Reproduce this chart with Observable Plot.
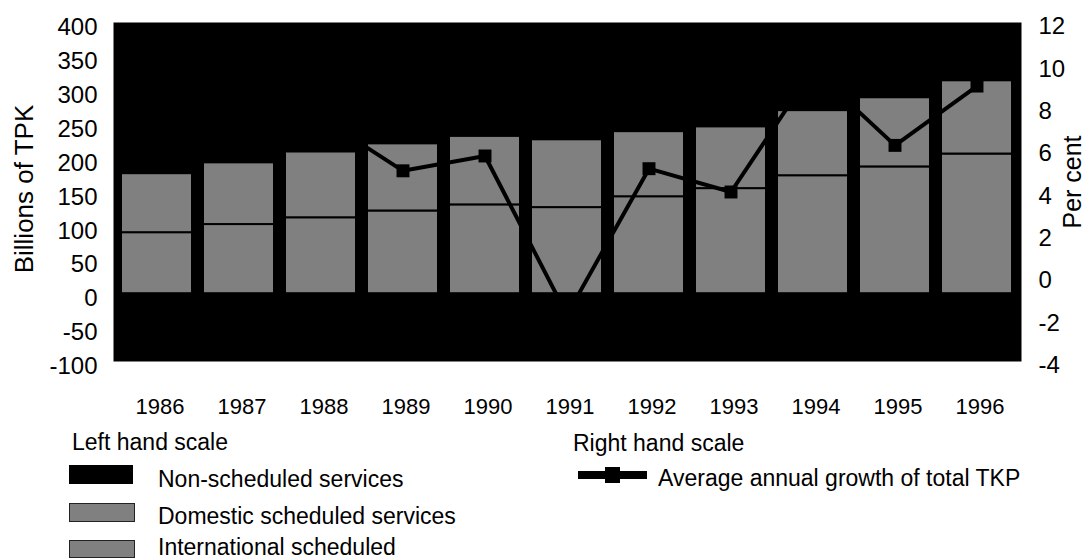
<!DOCTYPE html>
<html>
<head>
<meta charset="utf-8">
<script src="https://cdn.jsdelivr.net/npm/d3@7"></script>
<script src="https://cdn.jsdelivr.net/npm/@observablehq/plot@0.6"></script>
<style>
  body { margin: 0; background: white; font-family: "Liberation Sans", Arial, sans-serif; }
  #wrap { position: relative; width: 1085px; height: 560px; overflow: hidden; }
  #chart { position: absolute; left: 0; top: 0; }
  .lg { position: absolute; font-size: 23px; color: #000; white-space: nowrap; line-height: 23px; }
  .sw { position: absolute; box-sizing: border-box; }
</style>
</head>
<body>
<div id="wrap">
  <div id="chart"></div>
  <div class="lg" style="left:72px; top:431px;">Left hand scale</div>
  <div class="sw" style="left:69px; top:465px; width:64px; height:19px; background:#000;"></div>
  <div class="lg" style="left:158px; top:468px;">Non-scheduled services</div>
  <div class="sw" style="left:69px; top:503px; width:66px; height:19px; background:#808080; border:1px solid #222;"></div>
  <div class="lg" style="left:158px; top:505px;">Domestic scheduled services</div>
  <div class="sw" style="left:69px; top:540px; width:66px; height:18px; background:#808080; border:1px solid #222;"></div>
  <div class="lg" style="left:158px; top:536px;">International scheduled</div>

  <div class="lg" style="left:573px; top:432px;">Right hand scale</div>
  <div class="sw" style="left:578px; top:471px; width:69px; height:8px; background:#000;"></div>
  <div class="sw" style="left:605px; top:467px; width:15px; height:16px; background:#000;"></div>
  <div class="lg" style="left:658px; top:467px;">Average annual growth of total TKP</div>
</div>
<script>
// ---- data ----
const years = ["1986","1987","1988","1989","1990","1991","1992","1993","1994","1995","1996"];
// Billions of TPK (left hand scale)
const domesticScheduled = [90, 102, 112, 122, 131, 127, 143, 155, 174, 187, 206];
const internationalScheduled = [87, 91, 97, 99, 101, 100, 96, 91, 96, 102, 108];
// Per cent (right hand scale)
const growthYears = ["1988","1989","1990","1991","1992","1993","1994","1995","1996"];
const growthValues = [7.5, 5.0, 5.7, -1.8, 5.1, 4.0, 9.8, 6.2, 9.0];
// tick labels
const leftTicks = [-100, -50, 0, 50, 100, 150, 200, 250, 300, 350, 400];
const rightTicks = [-4, -2, 0, 2, 4, 6, 8, 10, 12];

// ---- build ----
const leftDomain = [-100, 400];
const rightDomain = [-4, 12];
const toLeft = p => leftDomain[0] + (p - rightDomain[0]) * (leftDomain[1] - leftDomain[0]) / (rightDomain[1] - rightDomain[0]);
const fromLeft = v => rightDomain[0] + (v - leftDomain[0]) * (rightDomain[1] - rightDomain[0]) / (leftDomain[1] - leftDomain[0]);

const rows = years.map((y, i) => ({
  year: y,
  dom: domesticScheduled[i],
  top: domesticScheduled[i] + internationalScheduled[i]
}));
const growth = growthYears.map((y, i) => ({year: y, g: growthValues[i]}));

const font = "'Liberation Sans', Arial, sans-serif";

const chart = Plot.plot({
  width: 1085,
  height: 420,
  marginTop: 22,
  marginBottom: 59,
  marginLeft: 113,
  marginRight: 64,
  style: {fontFamily: font, background: "white", color: "black"},
  x: {domain: years, paddingInner: 0.13, paddingOuter: 0.065, axis: null},
  y: {domain: leftDomain, axis: null},
  marks: [
    Plot.frame({fill: "black"}),
    Plot.barY(rows, {x: "year", y1: 0, y2: "dom", fill: "#808080", stroke: "black", strokeWidth: 2}),
    Plot.barY(rows, {x: "year", y1: "dom", y2: "top", fill: "#808080", stroke: "black", strokeWidth: 2}),
    Plot.line(growth, {x: "year", y: d => toLeft(d.g), stroke: "black", strokeWidth: 4}),
    Plot.dot(growth, {x: "year", y: d => toLeft(d.g), symbol: "square", fill: "black", stroke: "none", r: 7.3}),
    Plot.axisY(leftTicks, {anchor: "left", tickSize: 0, tickPadding: 16, fontSize: 24, dy: 5, label: null, tickFormat: d => String(d)}),
    Plot.axisY(rightTicks.map(toLeft), {anchor: "right", tickSize: 0, tickPadding: 17, fontSize: 24, dy: 4, label: null, tickFormat: v => String(Math.round(fromLeft(v)))}),
    Plot.axisX(years, {anchor: "bottom", tickSize: 0, tickPadding: 37, dx: 3, fontSize: 22, label: null}),
    Plot.text(["Billions of TPK"], {frameAnchor: "left", dx: -89, dy: -3, rotate: -90, fontSize: 26, textAnchor: "middle", lineAnchor: "middle"}),
    Plot.text(["Per cent"], {frameAnchor: "right", dx: 51, dy: -10, rotate: -90, fontSize: 25, textAnchor: "middle", lineAnchor: "middle"})
  ]
});
document.getElementById("chart").appendChild(chart);
</script>
</body>
</html>
